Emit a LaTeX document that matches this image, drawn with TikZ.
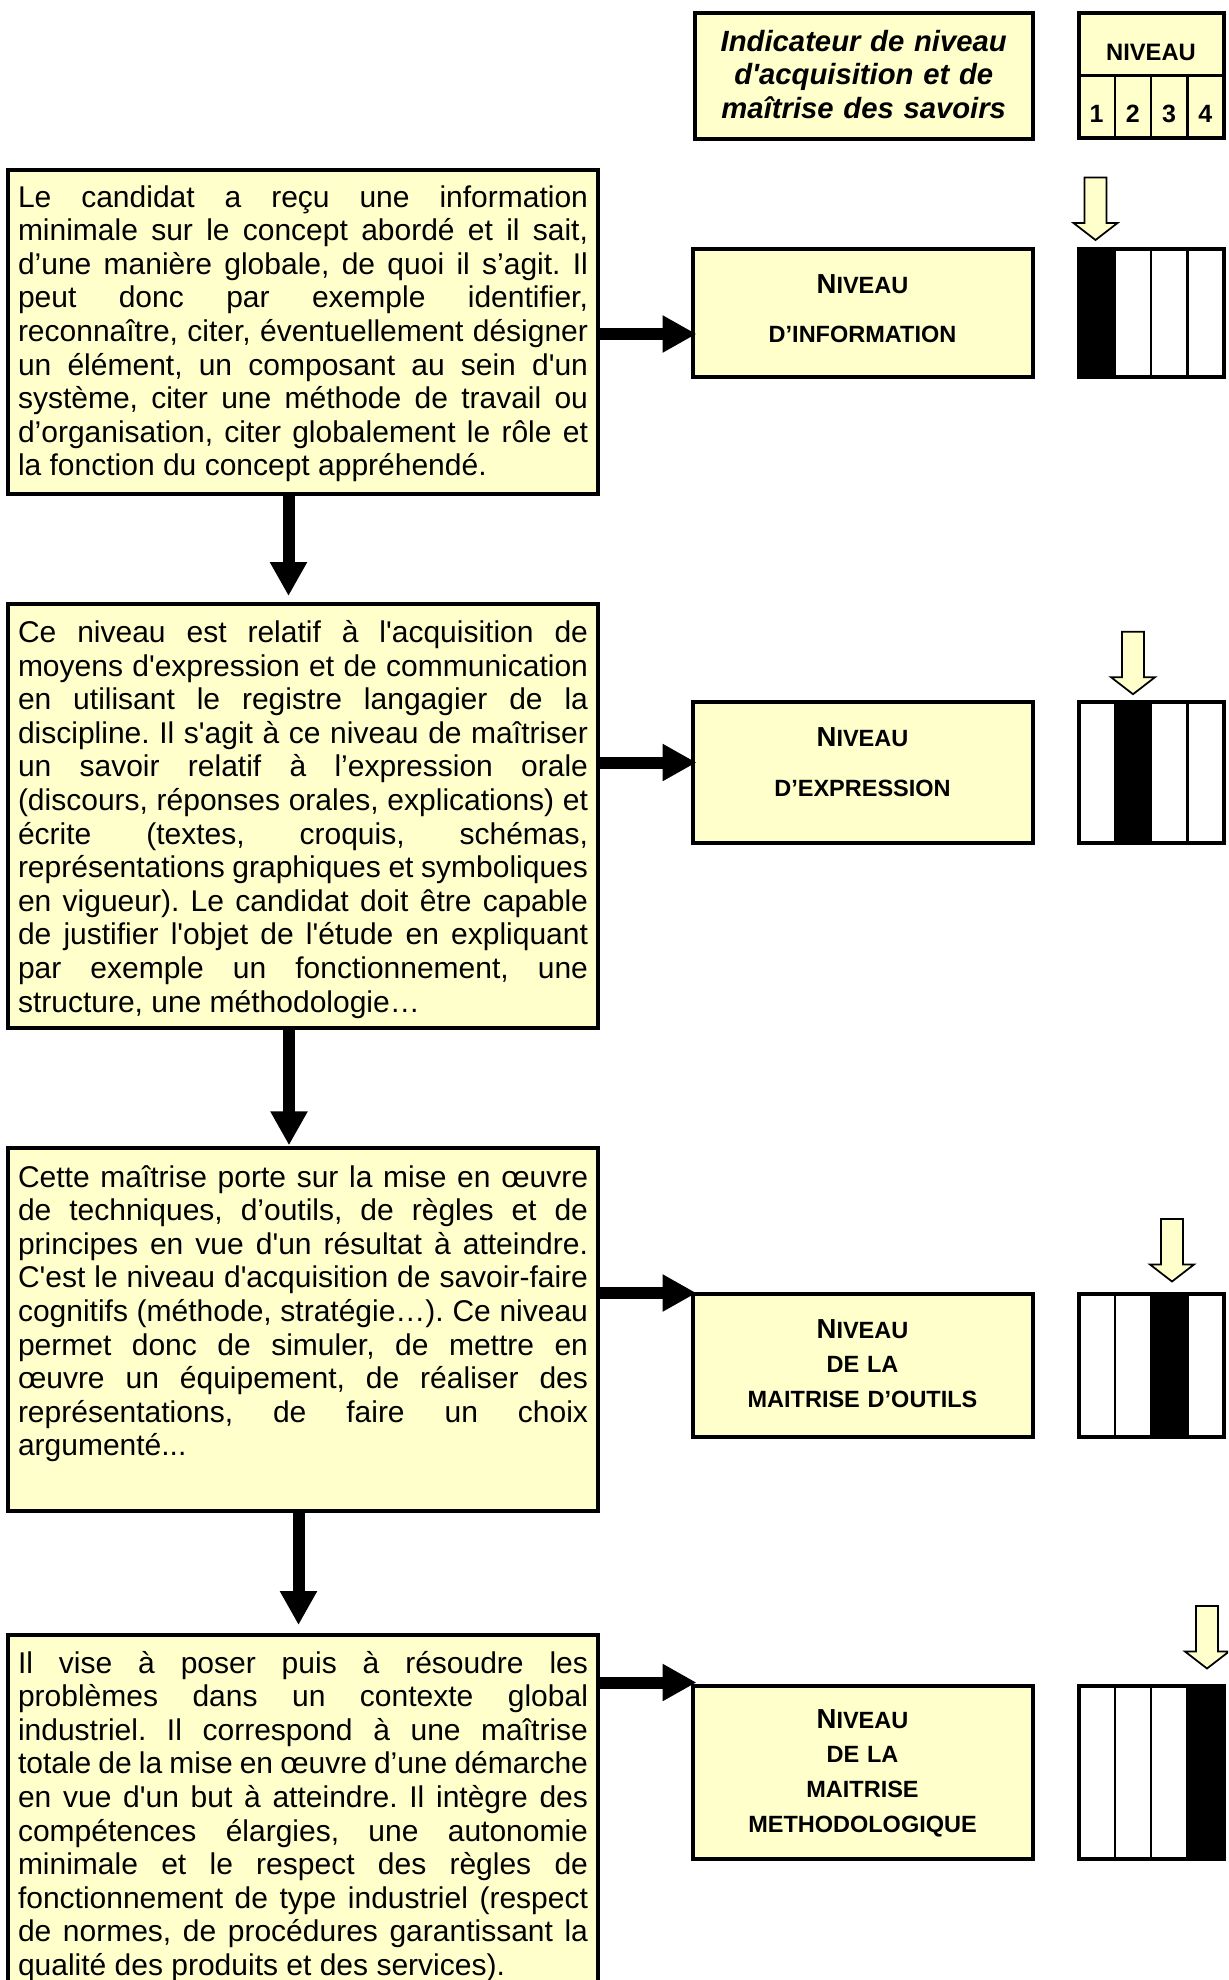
\documentclass[tikz,border=0pt]{standalone}
\usepackage{fontspec}
\newfontfamily\arialf{Liberation Sans}
\usetikzlibrary{arrows.meta,calc}
\definecolor{paleyellow}{HTML}{FFFFCC}
\hyphenpenalty=10000
\exhyphenpenalty=10000
\tolerance=10000
\hbadness=10000
\frenchspacing
\newcommand\bigNletter{{\fontsize{11pt}{11pt}\selectfont N}}
\newcommand\levelfill[2]{%
  \fill ($(#1.north west)+({36.25*(#2-1)},0)$) rectangle ($(#1.south west)+({36.25*#2},0)$);
  \foreach \j in {1,2,3} \draw[divider] ($(#1.north west)+({36.25*\j},0)$) -- ($(#1.south west)+({36.25*\j},0)$);
  \draw[line width=1.6pt] (#1.north west) rectangle (#1.south east);
}
\newcommand\hollowarrow[2]{%
  \draw[hollowarr] ({#1-11},{#2}) -- ({#1+11},{#2}) -- ({#1+11},{#2+45.5}) -- ({#1+22},{#2+45.5}) -- ({#1},{#2+62.5}) -- ({#1-22},{#2+45.5}) -- ({#1-11},{#2+45.5}) -- cycle;
}
\tikzset{
  txtbox/.style={draw, line width=1.6pt, fill=paleyellow, anchor=north west, outer sep=0pt,
    inner xsep=4pt, inner ysep=0pt, text width=228pt, align=justify,
    font=\arialf\fontsize{12pt}{13.44pt}\selectfont},
  nivbox/.style={draw, line width=1.6pt, fill=paleyellow, anchor=north west, inner sep=0pt, outer sep=0pt,
    text width=136pt, align=center, font=\arialf\bfseries\fontsize{9.4pt}{19.7pt}\selectfont},
  nivboxm/.style={nivbox, font=\arialf\bfseries\fontsize{9.4pt}{13.84pt}\selectfont},
  levelbar/.style={draw, line width=1.6pt, fill=white, anchor=north west, inner sep=0pt, outer sep=0pt, minimum width=58pt},
  bigarrow/.style={line width=4.8pt, -{Triangle[length=13.6pt,width=14pt]}},
  hollowarr/.style={draw, line width=0.7pt, fill=paleyellow, line join=miter},
  divider/.style={line width=1pt},
}
\begin{document}
\begin{tikzpicture}[x=0.4pt, y=-0.4pt]
\useasboundingbox (0,0) rectangle (1228,1980);
\clip (0,0) rectangle (1228,1980);

% header
\node[draw, line width=1.6pt, fill=paleyellow, anchor=north west, inner sep=0pt, outer sep=0pt,
  text width=135pt, align=center, text height=15.4pt, text depth=35pt,
  font=\arialf\bfseries\itshape\fontsize{11.7pt}{13.4pt}\selectfont] (ind) at (695,12.5)
  {Indicateur de niveau\\d'acquisition et de\\maîtrise des savoirs};
\node[draw, line width=1.6pt, fill=paleyellow, anchor=north west, inner sep=0pt, outer sep=0pt,
  minimum width=58pt, minimum height=50pt] (hdr) at (1078.5,13) {};
\draw[divider] ($(hdr.north west)+(0,62.5)$) -- ($(hdr.north east)+(0,62.5)$);
\foreach \j in {1,2,3} \draw[divider] ($(hdr.north west)+({36.25*\j},62.5)$) -- ($(hdr.south west)+({36.25*\j},0)$);
\node[font=\arialf\bfseries\fontsize{9.5pt}{11pt}\selectfont, anchor=base, inner sep=0pt] (hdrtitle) at (1151,60) {NIVEAU};
\foreach \k in {1,...,4}
  \node[font=\arialf\bfseries\fontsize{10pt}{11pt}\selectfont, anchor=base, inner sep=0pt] (d\k) at ({1078.5+36.25*(\k-0.5)},122) {\k};

% text boxes
\node[txtbox, text height=14.8pt, text depth=114.8pt] (t1) at (8,170) {%
Le candidat a reçu une information\linebreak
minimale sur le concept abordé et il sait,\linebreak
d’une manière globale, de quoi il s’agit. Il\linebreak
peut donc par exemple identifier,\linebreak
reconnaître, citer, éventuellement désigner\linebreak
un élément, un composant au sein d'un\linebreak
système, citer une méthode de travail ou\linebreak
d’organisation, citer globalement le rôle et\linebreak
la fonction du concept appréhendé.};

\node[txtbox, text height=15.4pt, text depth=154.2pt] (t2) at (8,604) {%
Ce niveau est relatif à l'acquisition de\linebreak
moyens d'expression et de communication\linebreak
en utilisant le registre langagier de la\linebreak
discipline. Il s'agit à ce niveau de maîtriser\linebreak
un savoir relatif à l’expression orale\linebreak
(discours, réponses orales, explications) et\linebreak
écrite (textes, croquis, schémas,\linebreak
représentations graphiques et symboliques\linebreak
en vigueur). Le candidat doit être capable\linebreak
de justifier l'objet de l'étude en expliquant\linebreak
par exemple un fonctionnement, une\linebreak
structure, une méthodologie…};

\node[txtbox, text height=15.5pt, text depth=129.4pt] (t3) at (8,1148.3) {%
Cette maîtrise porte sur la mise en œuvre\linebreak
de techniques, d’outils, de règles et de\linebreak
principes en vue d'un résultat à atteindre.\linebreak
C'est le niveau d'acquisition de savoir-faire\linebreak
cognitifs (méthode, stratégie…). Ce niveau\linebreak
permet donc de simuler, de mettre en\linebreak
œuvre un équipement, de réaliser des\linebreak
représentations, de faire un choix\linebreak
argumenté...};

\node[txtbox, text height=15.2pt, text depth=160pt] (t4) at (8,1635) {%
Il vise à poser puis à résoudre les\linebreak
problèmes dans un contexte global\linebreak
industriel. Il correspond à une maîtrise\linebreak
totale de la mise en œuvre d’une démarche\linebreak
en vue d'un but à atteindre. Il intègre des\linebreak
compétences élargies, une autonomie\linebreak
minimale et le respect des règles de\linebreak
fonctionnement de type industriel (respect\linebreak
de normes, de procédures garantissant la\linebreak
qualité des produits et des services).};

% level boxes
\node[nivbox, text height=17.9pt, text depth=33.3pt] (n1) at (692.5,248.5) {\bigNletter{}IVEAU\\D’INFORMATION};
\node[nivbox, text height=18.1pt, text depth=38.3pt] (n2) at (692.5,701.5) {\bigNletter{}IVEAU\\D’EXPRESSION};
\node[nivboxm, text height=17.9pt, text depth=39.3pt] (n3) at (692.5,1293.5) {\bigNletter{}IVEAU\\DE LA\\MAITRISE D’OUTILS};
\node[nivboxm, text height=17.1pt, text depth=52.3pt] (n4) at (692.5,1685.5) {\bigNletter{}IVEAU\\DE LA\\MAITRISE\\METHODOLOGIQUE};

% level bars
\node[levelbar, minimum height=51.2pt] (b1) at (1078.5,248.5) {};
\levelfill{b1}{1}
\node[levelbar, minimum height=56.4pt] (b2) at (1078.5,701.5) {};
\levelfill{b2}{2}
\node[levelbar, minimum height=57.2pt] (b3) at (1078.5,1293.5) {};
\levelfill{b3}{3}
\node[levelbar, minimum height=69.4pt] (b4) at (1078.5,1685.5) {};
\levelfill{b4}{4}

% hollow indicator arrows
\hollowarrow{1095.5}{177.5}
\hollowarrow{1133}{631.7}
\hollowarrow{1172}{1219}
\hollowarrow{1207}{1606}

% horizontal connectors
\coordinate (h1) at (0,334);
\coordinate (h2) at (0,762.5);
\coordinate (h3) at (0,1293);
\coordinate (h4) at (0,1682.5);
\draw[bigarrow, shorten >=-1.6pt] (t1.east |- h1) -- (n1.west |- h1);
\draw[bigarrow, shorten >=-1.6pt] (t2.east |- h2) -- (n2.west |- h2);
\draw[bigarrow, shorten >=-1.6pt] (t3.east |- h3) -- (n3.west |- h3);
\draw[bigarrow, shorten >=-1.6pt] (t4.east |- h4) -- (n4.west |- h4);

% vertical connectors
\coordinate (v1) at (288.5,0);
\coordinate (v2) at (289,0);
\coordinate (v3) at (298.5,0);
\draw[bigarrow, shorten >=3.2pt] (t1.south -| v1) -- (t2.north -| v1);
\draw[bigarrow, shorten >=1.2pt] (t2.south -| v2) -- (t3.north -| v2);
\draw[bigarrow, shorten >=4pt] (t3.south -| v3) -- (t4.north -| v3);
\end{tikzpicture}
\end{document}
